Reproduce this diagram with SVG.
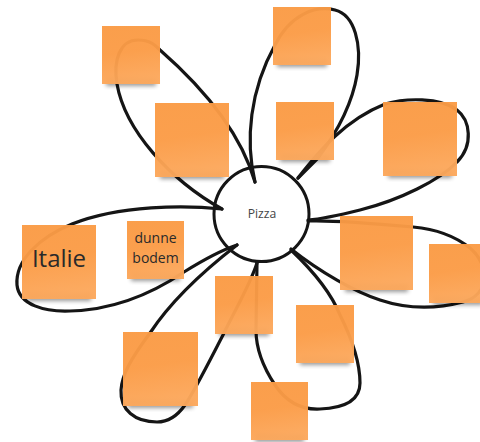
<svg xmlns="http://www.w3.org/2000/svg" width="480" height="442" viewBox="0 0 480 442">
  <style>
    .hub { fill: #ffffff; stroke: #151515; stroke-width: 3; }
    .link { fill: none; stroke: #151515; stroke-width: 3.2; stroke-linecap: round; stroke-linejoin: round; }
    .note { fill: url(#noteFill); fill-opacity: 0.965; }
    .shade { fill: #000000; opacity: 0.4; filter: url(#soft); }
    .label { font-family: "Open Sans", "Liberation Sans", sans-serif; text-anchor: middle; }
  </style>
  <defs>
    <linearGradient id="noteFill" x1="0" y1="0" x2="0.15" y2="1">
      <stop offset="0" stop-color="#FA9B45"/>
      <stop offset="0.5" stop-color="#FB9C47"/>
      <stop offset="1" stop-color="#FCA85C"/>
    </linearGradient>
    <filter id="soft" x="-20%" y="-50%" width="140%" height="200%">
      <feGaussianBlur stdDeviation="2.2"/>
    </filter>
  </defs>

  <rect width="480" height="442" fill="#ffffff"/>

  <!-- central topic -->
  <g id="hub-pizza">
    <circle class="hub" cx="261.5" cy="214" r="47.5"/>
    <text class="label" x="262" y="218" font-size="12.2" fill="#454545">Pizza</text>
  </g>

  <!-- petal-shaped loops leaving the hub -->
  <g id="connectors">
    <path class="link" d="M222 209 C170 180 125 130 117 84 C113 60 120 40 138 40 C150 40 155 45 160 50 C200 85 240 130 255 182"/>
    <path class="link" d="M255 182 C245 140 250 90 275 45 C290 15 315 5 335 10 C355 15 362 45 357 75 C352 105 335 135 318 158 L298 178"/>
    <path class="link" d="M298 178 C320 150 345 120 385 104 C405 98 440 97 457 110 C470 120 474 145 457 162 C440 180 400 200 360 210 C340 215 322 219 308 220"/>
    <path class="link" d="M308 221 C330 220 380 224 413 227 C435 229 455 236 470 248 C490 265 490 295 463 302 C440 308 410 310 380 300 C355 292 320 272 291 249"/>
    <path class="link" d="M291 250 C310 268 330 290 340 315 C350 335 360 360 360 383 C360 400 345 408 320 409 C300 410 285 400 275 385 C265 370 256 350 256 330 L257 262"/>
    <path class="link" d="M237 245 C215 262 175 295 150 333 C130 360 122 375 121 390 C120 410 135 422 157 422 C170 422 178 415 185 405 C195 390 210 360 223 335 C235 310 250 285 257 263"/>
    <path class="link" d="M222 209 C185 205 120 205 72 224 C40 237 15 260 17 285 C19 305 45 312 70 311 C110 310 150 295 184 272 C200 262 222 250 237 245"/>
  </g>

  <!-- sticky notes -->
  <g id="note-a">
    <rect class="shade" x="106" y="78" width="50" height="8"/>
    <rect class="note" x="102" y="26" width="58" height="58"/>
  </g>
  <g id="note-b">
    <rect class="shade" x="160" y="171" width="64" height="8"/>
    <rect class="note" x="155" y="103" width="74" height="74"/>
  </g>
  <g id="note-c">
    <rect class="shade" x="277" y="59" width="50" height="8"/>
    <rect class="note" x="273" y="7" width="58" height="58"/>
  </g>
  <g id="note-d">
    <rect class="shade" x="280" y="154" width="50" height="8"/>
    <rect class="note" x="276" y="102" width="58" height="58"/>
  </g>
  <g id="note-e">
    <rect class="shade" x="388" y="170" width="64" height="8"/>
    <rect class="note" x="383" y="102" width="74" height="74"/>
  </g>
  <g id="note-italie">
    <rect class="shade" x="27" y="293" width="64" height="8"/>
    <rect class="note" x="22" y="225" width="74" height="74"/>
    <text class="label" x="59" y="267" font-size="24" fill="#2a2a2a">Italie</text>
  </g>
  <g id="note-dunne-bodem">
    <rect class="shade" x="131" y="273" width="49" height="8"/>
    <rect class="note" x="127" y="221" width="57" height="58"/>
    <text class="label" x="155.5" y="243" font-size="14" fill="#2a2a2a">dunne</text>
    <text class="label" x="155.5" y="263" font-size="14" fill="#2a2a2a">bodem</text>
  </g>
  <g id="note-f">
    <rect class="shade" x="345" y="284" width="63" height="8"/>
    <rect class="note" x="340" y="216" width="73" height="74"/>
  </g>
  <g id="note-g">
    <rect class="shade" x="433" y="297" width="50" height="8"/>
    <rect class="note" x="429" y="244" width="58" height="59"/>
  </g>
  <g id="note-h">
    <rect class="shade" x="219" y="328" width="50" height="8"/>
    <rect class="note" x="215" y="276" width="58" height="58"/>
  </g>
  <g id="note-i">
    <rect class="shade" x="300" y="357" width="50" height="8"/>
    <rect class="note" x="296" y="305" width="58" height="58"/>
  </g>
  <g id="note-j">
    <rect class="shade" x="255" y="434" width="49" height="8"/>
    <rect class="note" x="251" y="382" width="57" height="58"/>
  </g>
  <g id="note-k">
    <rect class="shade" x="128" y="400" width="65" height="8"/>
    <rect class="note" x="123" y="332" width="75" height="74"/>
  </g>
</svg>
